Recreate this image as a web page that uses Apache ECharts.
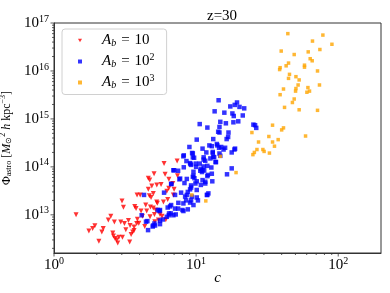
<!DOCTYPE html>
<html><head><meta charset="utf-8">
<script src="https://cdn.jsdelivr.net/npm/echarts@6/dist/echarts.min.js"></script>
<style>html,body{margin:0;padding:0;background:#fff}#c{width:390px;height:293px}</style>
</head><body><div id="c"></div>
<script>
// [c, Phi_astro]
const red = [[1.43,1.0e13],[1.76,4.6e12],[1.94,5.9e12],[2.07,2.8e12],[2.17,4.4e12],[2.22,5.2e12],[2.41,7.8e12],[2.51,9.3e12],[2.59,4.2e12],[2.66,7.1e12],[2.62,3.6e12],[2.69,3.2e12],[2.76,3.0e12],[2.86,3.4e12],[2.95,7.1e12],[3.08,1.44e13],[3.01,1.94e13],[3.13,6.6e12],[3.20,4.9e12],[3.03,3.4e12],[2.81,2.6e12],[3.41,2.7e12],[3.49,3.9e12],[3.58,4.4e12],[3.34,7.6e12],[3.70,1.5e13],[3.78,1.35e13],[3.86,8.1e12],[3.82,6.6e12],[3.95,6.7e12],[3.66,4.7e12],[4.04,2.6e13],[3.84,2.6e13],[4.10,1.2e13],[4.19,9.3e12],[4.42,1.6e13],[4.49,1.2e13],[4.35,5.7e12],[4.61,3.4e13],[4.69,2.5e13],[4.82,2.3e13],[4.77,1.45e13],[4.61,5.8e13],[4.72,5.3e13],[4.88,4.0e13],[5.06,7.2e13],[5.29,4.2e13],[5.67,4.3e13],[5.00,2.8e13],[5.28,1.86e13],[5.09,1.02e13],[5.20,1.26e13],[4.74,9.1e12],[5.89,1.86e13],[6.05,7.0e13],[5.95,1.17e14],[6.22,3.1e13],[6.43,5.5e13],[6.31,2.1e13],[7.35,1.32e14],[6.92,2.6e13],[6.85,4.5e13],[7.00,3.4e13],[6.42,3.6e13],[5.57,1.02e13],[5.76,9.3e12],[6.12,7.9e12],[5.12,7.2e12],[5.43,7.8e12],[5.34,1.74e13],[5.00,1.38e13],[3.43,6.0e12],[3.66,5.6e12],[7.40,6.5e13],[1.87,5.2e12]];
const blue = [[4.30,2.6e13],[4.14,9.8e12],[4.44,7.2e12],[4.59,4.8e12],[4.98,6.0e12],[5.52,1.2e13],[5.57,7.6e12],[6.31,1.42e13],[6.43,9.8e12],
[8.97,2.6e14],[11.1,2.4e14],[12.4,2.8e14],[14.0,3.0e14],[15.0,2.6e14],[16.0,2.5e14],[18.6,2.3e14],[17.8,2.0e14],[16.5,7.0e13],[17.8,9.3e13],[8.19,1.74e14],[9.37,1.95e14],[9.48,1.58e14],[11.3,1.58e14],[11.6,1.34e14],[13.1,1.95e14],[13.2,1.62e14],[14.8,1.70e14],[13.7,1.26e14],[9.12,1.15e14],[9.95,1.17e14],[10.7,8.3e13],[11.4,8.4e13],[12.0,1.05e14],[12.8,9.7e13],[12.1,6.8e13],[13.0,5.0e13],[9.58,6.5e13],[8.6,5.6e13],[7.63,5.5e13],[7.0,8.5e13],[7.47,8.3e13],[6.70,4.4e13],[9.89,4.5e13],[10.8,4.2e13],[11.1,5.3e13],[9.07,3.4e13],[10.1,3.3e13],[8.74,3.0e13],[7.84,2.9e13],[7.11,2.6e13],[8.37,2.4e13],[10.3,2.0e13],[11.9,2.6e13],[9.07,1.8e13],[7.5,1.78e13],[6.56,1.5e13],[7.11,1.35e13],[8.14,1.2e13],[6.45,1.07e13],[6.22,9.1e12],[5.83,8.0e12],[5.57,1.26e13],[5.95,2.9e13],
[12.9,2.7e14],[11.0,7.8e13],[9.73,5.8e13],[8.19,9.8e13],[8.28,4.6e13],[11.6,4.9e13],[9.33,2.4e13],[8.5,2.0e13],[8.74,1.3e13],[6.92,9.8e12],[5.14,6.0e12],[4.95,5.7e12],
[14.4,2.45e15],[19.4,2.2e15],[18.7,1.96e15],[17.4,1.82e15],[21.8,1.66e15],[13.5,1.44e15],[15.8,1.35e15],[18.0,1.30e15],[21.3,1.18e15],[14.8,8.7e14],[16.2,8.1e14],[19.8,8.9e14],[10.6,7.8e14],[12.0,6.6e14],[14.6,6.8e14],[14.6,5.2e14],[16.9,5.2e14],[16.4,3.8e14],[13.2,3.8e14],[10.1,3.7e14],[14.5,2.5e14],[18.8,2.4e14],[13.4,1.59e14],[14.6,1.9e14],[8.55,1.32e14],[13.8,1.26e14],[25.3,7.6e14],[26.5,6.5e14],
[20.2,1.78e15],[18.4,1.15e15],[18.3,8.5e14],[14.3,5.4e14],[16.8,4.2e14],[14.1,2.8e14],[11.8,2.0e14],[13.1,2.05e14],[15.6,2.3e14],[9.68,1.55e14],[9.07,1.2e14],[11.3,1.02e14],[10.8,9.1e13],[26.0,7.4e14],
[9.48,1.91e14],[11.3,1.42e14],[12.6,1.5e14],[10.6,1.17e14],[9.22,1.1e14],[10.0,1.0e14],[11.1,8.5e13],[9.58,7.9e13],[9.48,6.2e13],[10.1,5.0e13],[11.6,4.5e13],[9.22,4.1e13],[12.2,2.8e13],[10.1,2.3e13],[9.22,2.0e13],[12.0,2.6e13],[12.9,7.2e13],[12.0,6.4e13],
[4.54,7.4e12],[5.09,6.6e12],[5.57,6.4e12],[5.37,1.26e13],[6.67,1.6e13],[6.64,1.07e13],[7.19,1.02e13],[7.47,1.35e13],[8.14,1.73e13],[8.01,1.26e13],[8.6,2.6e13],[9.58,1.6e13],[6.92,8.5e13],[7.72,5.7e13],[8.14,1.66e14],[9.22,3.7e13],[6.67,4.4e13]];
const orange = [[44.2,6.0e16],[78,5.6e16],[65.9,4.2e16],[90.3,3.6e16],[74.3,2.8e16],[39.7,2.6e16],[61.5,2.5e16],[49.0,2.2e16],[63.5,1.8e16],[65.6,1.63e16],[44.7,1.46e16],[43.0,1.28e16],[57.9,1.32e16],[39.0,1.17e16],[38.7,1.07e16],[57.9,1.2e16],[71.5,1.0e16],[45.4,8.5e15],[50.4,7.6e15],[44.7,7.0e15],[53.1,6.5e15],[52.2,5.1e15],[73.8,5.1e15],[41.2,4.2e15],[50.4,4.3e15],[61.2,4.5e15],[62.8,3.8e15],[50.1,3.8e15],[60.2,3.6e15],[39.0,3.2e15],[49.0,2.6e15],[47.6,2.2e15],[41.9,1.74e15],[53.1,1.55e15],[71.5,1.51e15],[34.5,7.4e14],[41.2,6.5e14],[40.0,5.9e14],[24.7,5.2e14],[58.9,4.4e14],[32.5,4.3e14],[37.8,3.7e14],[27.5,3.3e14],[34.5,3.3e14],[35.6,2.7e14],[26.8,2.3e14],[29.5,2.3e14],[30.1,2.1e14],[25.7,2.0e14],[25.1,1.8e14],[32.8,1.94e14],[14.8,1.66e14],[19.1,7.6e13],[11.7,1.95e13],[9.33,2.6e13]];

const seriesNames = ['Ab10', 'Ab100', 'Ab1000'];
const legendExp = ['', '2', '3'];
const xMajor = [1, 10, 100];
const xMinor = [2,3,4,5,6,7,8,9,20,30,40,50,60,70,80,90];
const yMajor = [1e13, 1e14, 1e15, 1e16, 1e17];
const yMinor = [2e12,3e12,4e12,5e12,6e12,7e12,8e12,9e12,2e13,3e13,4e13,5e13,6e13,7e13,8e13,9e13,2e14,3e14,4e14,5e14,6e14,7e14,8e14,9e14,2e15,3e15,4e15,5e15,6e15,7e15,8e15,9e15,2e16,3e16,4e16,5e16,6e16,7e16,8e16,9e16];
const xMin = 1, xMax = 200, yMin = 1.6e12, yMax = 1e17;

const FONT = 'Liberation Serif';
const AX = '#333';
const DOWN_TRI = 'path://M0,0L10,0L5,8.66Z';

function powLabel(v) {
  const e = Math.log10(v);
  const r = Math.round(e);
  if (Math.abs(e - r) > 1e-6) return '';
  return '{b|10}{s|' + r + '}';
}
const labelRich = {
  b: {fontFamily: FONT, fontSize: 15, color: '#000'},
  s: {fontFamily: FONT, fontSize: 10, color: '#000', padding: [0, 0, 8, 0]}
};

function tickSeries(values, axis, len) {
  return {
    type: 'custom', silent: true, clip: false, z: 5,
    data: values.map(v => axis === 'x' ? [v, yMin] : [xMin, v]),
    renderItem: function (params, api) {
      const p = api.coord([api.value(0), api.value(1)]);
      const shape = axis === 'x'
        ? {x1: p[0], y1: p[1], x2: p[0], y2: p[1] + len}
        : {x1: p[0] - len, y1: p[1], x2: p[0], y2: p[1]};
      return {type: 'line', shape: shape, style: {stroke: AX, lineWidth: 0.8}};
    }
  };
}

const chart = echarts.init(document.getElementById('c'), null, {renderer: 'canvas'});
chart.setOption({
  animation: false,
  backgroundColor: '#fff',
  title: {
    text: 'z=30', left: 202, top: 4,
    textStyle: {fontFamily: FONT, fontSize: 15, fontWeight: 'normal', color: '#000'}
  },
  grid: {left: 54, right: 9, top: 23, bottom: 40, show: true, borderColor: AX, borderWidth: 1, outerBoundsMode: 'none', containLabel: false},
  legend: {
    data: [
      {name: seriesNames[0], icon: DOWN_TRI},
      {name: seriesNames[1], icon: 'rect'},
      {name: seriesNames[2], icon: 'rect'}
    ],
    orient: 'vertical', left: 62, top: 29,
    itemWidth: 4, itemHeight: 4, itemGap: 4,
    padding: [4, 12, 4, 16],
    borderColor: '#d0d0d0', borderWidth: 1, borderRadius: 3,
    backgroundColor: 'rgba(255,255,255,0.85)',
    formatter: function (name) {
      const i = seriesNames.indexOf(name);
      return '{sp| }{i|A}{sub|b}{eq|=}{t|10}' + (legendExp[i] ? '{sup|' + legendExp[i] + '}' : '');
    },
    textStyle: {
      fontFamily: FONT, fontSize: 15, color: '#000',
      rich: {
        sp: {width: 15},
        i: {fontFamily: FONT, fontSize: 15, fontStyle: 'italic', color: '#000', lineHeight: 16},
        t: {fontFamily: FONT, fontSize: 15, color: '#000', lineHeight: 16},
        eq: {fontFamily: FONT, fontSize: 15, color: '#000', lineHeight: 16, padding: [0, 5, 0, 5]},
        sub: {fontFamily: FONT, fontSize: 10, fontStyle: 'italic', color: '#000', padding: [6, 0, 0, 0]},
        sup: {fontFamily: FONT, fontSize: 10, color: '#000', padding: [0, 0, 8, 0]}
      }
    }
  },
  xAxis: {
    type: 'log', logBase: 10, min: xMin, max: xMax,
    name: 'c', nameLocation: 'middle', nameGap: 18, nameMoveOverlap: false,
    nameTextStyle: {fontFamily: FONT, fontSize: 15, fontStyle: 'italic', color: '#000'},
    axisLine: {show: true, onZero: false, lineStyle: {color: AX, width: 1}},
    axisTick: {show: false},
    splitLine: {show: false},
    axisLabel: {margin: 3, formatter: powLabel, rich: labelRich, showMinLabel: true, showMaxLabel: true}
  },
  yAxis: {
    type: 'log', logBase: 10, min: yMin, max: yMax,
    name: '{t|Φ}{sub|astro}{t| [}{i|M}{sub|⊙}{sup|2}{t| }{i|h}{t| kpc}{sup|−3}{t|]}',
    nameLocation: 'middle', nameRotate: 90, nameGap: 23,
    nameTextStyle: {
      fontFamily: FONT, fontSize: 12, color: '#000',
      rich: {
        t: {fontFamily: FONT, fontSize: 12, color: '#000'},
        i: {fontFamily: FONT, fontSize: 12, fontStyle: 'italic', color: '#000'},
        sub: {fontFamily: FONT, fontSize: 8, color: '#000', padding: [5, 0, 0, 0]},
        sup: {fontFamily: FONT, fontSize: 8, color: '#000', padding: [0, 0, 7, 0]}
      }
    },
    axisLine: {show: true, onZero: false, lineStyle: {color: AX, width: 1}},
    axisTick: {show: false},
    splitLine: {show: false},
    axisLabel: {margin: 5, formatter: powLabel, rich: labelRich}
  },
  series: [
    {name: seriesNames[0], type: 'scatter', data: red, symbol: 'triangle', symbolRotate: 180, symbolSize: 5, itemStyle: {color: '#ff0000'}},
    {name: seriesNames[1], type: 'scatter', data: blue, symbol: 'rect', symbolSize: 4.5, itemStyle: {color: '#0000ff'}},
    {name: seriesNames[2], type: 'scatter', data: orange, symbol: 'rect', symbolSize: 3.5, itemStyle: {color: '#ffa500'}},
    tickSeries(xMajor, 'x', 3.5),
    tickSeries(xMinor, 'x', 2),
    tickSeries(yMajor, 'y', 3.5),
    tickSeries(yMinor, 'y', 2)
  ]
});
</script>
</body></html>
